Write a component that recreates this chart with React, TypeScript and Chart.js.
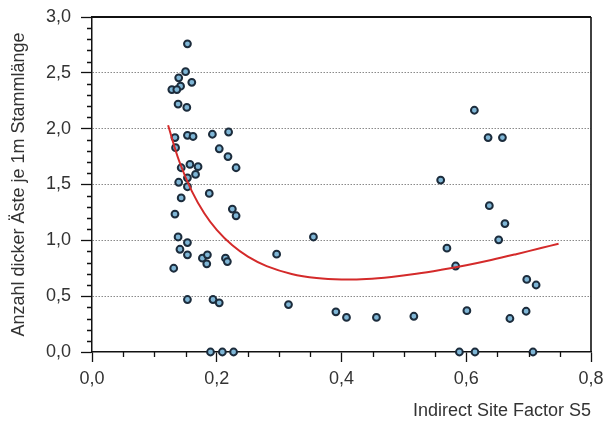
import React, { useEffect, useRef } from "react";
import { Chart, registerables } from "chart.js";

Chart.register(...registerables);

const pointX = [
  0.153, 0.150, 0.139, 0.160, 0.142, 0.128, 0.136, 0.138, 0.152, 0.133,
  0.153, 0.162, 0.193, 0.219, 0.134, 0.204, 0.218, 0.231, 0.143, 0.157,
  0.170, 0.166, 0.153, 0.139, 0.153, 0.143, 0.188, 0.133, 0.225, 0.231,
  0.138, 0.153, 0.141, 0.153, 0.177, 0.185, 0.184, 0.214, 0.217, 0.131,
  0.296, 0.153, 0.194, 0.204, 0.190, 0.209, 0.227, 0.559, 0.355, 0.569,
  0.583, 0.315, 0.391, 0.408, 0.456, 0.516, 0.601, 0.589, 0.613, 0.635,
  0.658, 0.637, 0.662, 0.652, 0.697, 0.712, 0.696, 0.670, 0.614, 0.707,
];
const pointY = [
  2.76, 2.51, 2.455, 2.415, 2.38, 2.35, 2.35, 2.22, 2.19, 1.92,
  1.94, 1.93, 1.95, 1.97, 1.83, 1.82, 1.75, 1.65, 1.65, 1.68,
  1.66, 1.59, 1.56, 1.52, 1.48, 1.38, 1.42, 1.235, 1.28, 1.22,
  1.03, 0.98, 0.92, 0.87, 0.84, 0.87, 0.79, 0.84, 0.81, 0.75,
  0.876, 0.47, 0.47, 0.44, 0, 0, 0, 1.54, 1.03, 0.93,
  0.77, 0.425, 0.36, 0.31, 0.31, 0.32, 0.37, 0, 2.165, 1.92,
  1.92, 1.31, 1.15, 1.005, 0.65, 0.60, 0.365, 0.30, 0, 0,
];

const curveX = [0.122, 0.14, 0.16, 0.18, 0.2, 0.225, 0.25, 0.28, 0.32, 0.36, 0.4, 0.44, 0.48, 0.52, 0.56, 0.6, 0.64, 0.68, 0.72, 0.748];
const curveY = [2.03, 1.706, 1.441, 1.243, 1.094, 0.955, 0.854, 0.769, 0.699, 0.663, 0.65, 0.654, 0.672, 0.7, 0.736, 0.777, 0.824, 0.876, 0.931, 0.97];

const xTicks = [0, 0.2, 0.4, 0.6, 0.8];
const yTicks = [0, 0.5, 1, 1.5, 2, 2.5, 3];
const xMinor = [0.05, 0.1, 0.15, 0.25, 0.3, 0.35, 0.45, 0.5, 0.55, 0.65, 0.7, 0.75];
const yMinor = [0.1, 0.2, 0.3, 0.4, 0.6, 0.7, 0.8, 0.9, 1.1, 1.2, 1.3, 1.4, 1.6, 1.7, 1.8, 1.9, 2.1, 2.2, 2.3, 2.4, 2.6, 2.7, 2.8, 2.9];

const xTitle = "Indirect Site Factor S5";
const yTitle = "Anzahl dicker Äste je 1m Stammlänge";

const fmt = (v: number) => v.toFixed(1).replace(".", ",");

const FONT = "'Liberation Sans', Arial, sans-serif";
const TEXT = "#333333";

const framePlugin = {
  id: "frame",
  afterDatasetsDraw(chart: any) {
    const { ctx, chartArea } = chart;
    const xs = chart.scales.x;
    const ys = chart.scales.y;
    ctx.save();
    ctx.strokeStyle = "#111111";
    ctx.lineWidth = 1.3;
    ctx.beginPath();
    for (const v of yMinor) {
      const py = Math.round(ys.getPixelForValue(v)) + 0.5;
      ctx.moveTo(chartArea.left - 5, py);
      ctx.lineTo(chartArea.left, py);
    }
    for (const v of xMinor) {
      const px = Math.round(xs.getPixelForValue(v)) + 0.5;
      ctx.moveTo(px, chartArea.bottom);
      ctx.lineTo(px, chartArea.bottom + 5);
    }
    ctx.stroke();
    ctx.lineWidth = 2.2;
    ctx.beginPath();
    ctx.moveTo(chartArea.left, chartArea.top);
    ctx.lineTo(chartArea.right, chartArea.top);
    ctx.stroke();
    ctx.lineWidth = 1.6;
    ctx.beginPath();
    ctx.moveTo(chartArea.right, chartArea.top);
    ctx.lineTo(chartArea.right, chartArea.bottom);
    ctx.stroke();
    ctx.restore();
  },
};

export default function App() {
  const ref = useRef<HTMLCanvasElement>(null);
  useEffect(() => {
    if (!ref.current) return;
    const scatter = pointX.map((x, i) => ({ x, y: pointY[i] }));
    const curve = curveX.map((x, i) => ({ x, y: curveY[i] }));
    const chart = new Chart(ref.current, {
      type: "scatter",
      data: {
        datasets: [
          {
            type: "line",
            data: curve,
            borderColor: "#d42a2a",
            borderWidth: 2,
            pointRadius: 0,
            tension: 0.4,
            fill: false,
          } as any,
          {
            data: scatter,
            pointRadius: 3.4,
            pointBorderWidth: 2,
            pointBackgroundColor: "#7fb6d6",
            pointBorderColor: "#1c2c3c",
            clip: false,
          } as any,
        ],
      },
      plugins: [framePlugin],
      options: {
        responsive: false,
        animation: false,
        layout: { padding: { left: 0, top: 17, right: 13, bottom: 0 } },
        plugins: {
          legend: { display: false },
          tooltip: { enabled: false },
        },
        scales: {
          x: {
            type: "linear",
            min: 0,
            max: 0.8,
            afterFit: (s: any) => {
              s.height = 76;
              s.paddingRight = 0;
              s.paddingLeft = 0;
            },
            afterBuildTicks: (s: any) => {
              s.ticks = xTicks.map((v) => ({ value: v }));
            },
            ticks: {
              callback: (v: any) => fmt(Number(v)),
              color: TEXT,
              font: { family: FONT, size: 18 },
              padding: 6,
              maxRotation: 0,
            },
            grid: {
              drawOnChartArea: false,
              drawTicks: true,
              tickLength: 10,
              tickColor: "#111111",
              tickWidth: 1.3,
            },
            border: { color: "#111111", width: 1.5 },
            title: {
              display: true,
              text: xTitle,
              align: "end",
              color: TEXT,
              font: { family: FONT, size: 18 },
              padding: { top: 2, bottom: 6 },
            },
          },
          y: {
            type: "linear",
            min: 0,
            max: 3,
            afterFit: (s: any) => {
              s.width = 92;
              s.paddingTop = 0;
              s.paddingBottom = 0;
            },
            afterBuildTicks: (s: any) => {
              s.ticks = yTicks.map((v) => ({ value: v }));
            },
            ticks: {
              callback: (v: any) => fmt(Number(v)),
              color: TEXT,
              font: { family: FONT, size: 18 },
              padding: 10,
            },
            grid: {
              color: (c: any) => (c.tick && (c.tick.value === 0 || c.tick.value === 3) ? "rgba(0,0,0,0)" : "#8a8a8a"),
              lineWidth: 1,
              drawTicks: true,
              tickLength: 11,
              tickColor: "#111111",
              tickWidth: 1.3,
            },
            border: { color: "#111111", width: 1.5, dash: [1.5, 1.5] },
            title: {
              display: true,
              text: yTitle,
              color: TEXT,
              font: { family: FONT, size: 18 },
              padding: { top: 8, bottom: 0 },
            },
          },
        },
      } as any,
    });
    return () => chart.destroy();
  }, []);
  return (
    <div style={{ position: "fixed", left: 0, top: 0, width: 604, height: 428, background: "#ffffff" }}>
      <canvas ref={ref} width={604} height={428} style={{ width: 604, height: 428 }} />
    </div>
  );
}
